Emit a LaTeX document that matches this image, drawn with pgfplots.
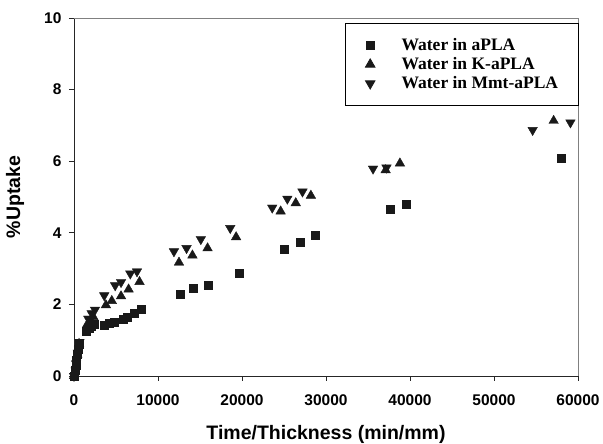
\documentclass[border=0pt]{standalone}
\usepackage{pgfplots}
\pgfplotsset{compat=1.18}
\usepackage{fontspec}
\setmainfont{Liberation Sans}
\newfontfamily\legfont{Liberation Serif}
\definecolor{mk}{RGB}{25,25,25}

\pgfplotstableread{
x y
0 0
120 0.15
220 0.3
300 0.45
380 0.6
460 0.75
560 0.9
1500 1.25
1800 1.33
2100 1.4
2400 1.45
3600 1.42
4200 1.47
4800 1.5
5800 1.58
6300 1.63
7200 1.75
8000 1.86
12700 2.28
14200 2.44
16000 2.53
19700 2.87
25000 3.53
26900 3.74
28700 3.93
37700 4.65
39500 4.8
58000 6.09
}\aPLA

\pgfplotstableread{
x y
0 0
200 0.3
400 0.6
600 0.9
1600 1.45
2000 1.55
2300 1.65
3800 1.98
4500 2.1
5600 2.23
6500 2.42
7800 2.63
12500 3.17
14100 3.37
15900 3.57
19300 3.88
24600 4.6
26400 4.83
28200 5.04
37100 5.75
38800 5.94
57100 7.13
}\KaPLA

\pgfplotstableread{
x y
0 0
250 0.35
450 0.65
650 0.95
1700 1.6
2100 1.75
2500 1.85
3600 2.25
4900 2.53
5600 2.62
6700 2.86
7500 2.92
11900 3.48
13400 3.57
15100 3.82
18600 4.13
23600 4.7
25400 4.95
27200 5.15
35600 5.79
37200 5.82
54600 6.87
59100 7.08
}\MmtPLA

\begin{document}
\begin{tikzpicture}
\begin{axis}[
    name=ax,
    scale only axis,
    width=504pt, height=358pt,
    xmin=0, xmax=60000, ymin=0, ymax=10,
    xtick={0,10000,...,60000}, ytick={0,2,...,10},
    scaled x ticks=false,
    /pgf/number format/1000 sep={},
    /pgf/number format/assume math mode=true,
    axis lines=left,
    axis line style={black!85, line width=0.8pt, -},
    tick align=outside,
    major tick length=5pt,
    tick style={black!85, line width=0.8pt},
    ticklabel style={font=\bfseries\fontsize{15.5}{15.5}\selectfont},
    yticklabel style={xshift=-4pt},
    xticklabel style={yshift=-10pt},
    every axis x label/.style={at={(axis description cs:0.5,0)}, anchor=base, yshift=-64pt},
    every axis y label/.style={at={(axis description cs:-0.117,0.5)}, rotate=90, anchor=center},
    label style={font=\bfseries\fontsize{19.5}{19.5}\selectfont},
    xlabel={Time/Thickness (min/mm)},
    ylabel={\%Uptake},
    legend style={at={(rel axis cs:1.002,0.986)}, anchor=north east,
        draw=black, line width=0.8pt, fill=white,
        font=\legfont\bfseries\fontsize{17.5}{19}\selectfont,
        inner xsep=19pt, inner ysep=13.5pt, row sep=2.5pt,
        nodes={inner sep=1.5pt}},
    legend cell align=left,
    legend image code/.code={\path[#1] plot coordinates {(5.5pt,0pt)};\path (0pt,0pt) (35pt,0pt);},
    clip=false,
  ]
  \addplot[only marks, mark=square*, mark size=4pt, color=mk] table {\aPLA};
  \addlegendentry{Water in aPLA}
  \addplot[only marks, mark=triangle*, mark size=5.5pt, color=mk] table {\KaPLA};
  \addlegendentry{Water in K-aPLA}
  \addplot[only marks, mark=triangle*, mark size=5.5pt, color=mk, mark options={rotate=180}] table {\MmtPLA};
  \addlegendentry{Water in Mmt-aPLA}
  \draw[gray, line width=0.6pt] (rel axis cs:0,1) -- (rel axis cs:1,1) -- (rel axis cs:1,0);
\end{axis}
\pgfresetboundingbox
\path[use as bounding box] (-74pt,-68pt) rectangle (529pt,376pt);
\end{tikzpicture}
\end{document}
